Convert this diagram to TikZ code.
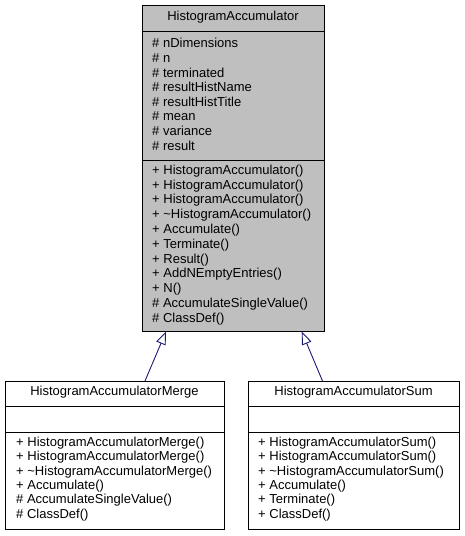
\documentclass[tikz,border=0pt]{standalone}
\usepackage{fontspec}
\setmainfont{Liberation Sans}
\usetikzlibrary{arrows.meta}
\definecolor{boxgray}{HTML}{BFBFBF}
\definecolor{edgeblue}{HTML}{191970}
\begin{document}
\begin{tikzpicture}[x=1pt,y=-1pt,
  txt/.style={anchor=west,inner sep=0pt,font=\fontsize{13}{14.6}\selectfont},
  hdr/.style={anchor=center,inner sep=0pt,font=\fontsize{13}{14.6}\selectfont},
  boxline/.style={draw=black,line width=1pt},
  inherit/.style={draw=edgeblue,line width=0.9pt,-{Triangle[open,length=13pt,width=10pt]}}]
\useasboundingbox (0,0) rectangle (464,536);
% top class
\filldraw[boxline,fill=boxgray] (142,5) rectangle (324,331);
\draw[boxline] (142,31) -- (324,31);
\draw[boxline] (142,160) -- (324,160);
\node[hdr] (th) at (233,17) {HistogramAccumulator};
\node[txt] (a1) at (152,43) {\# nDimensions};
\node[txt] (a2) at (152,57.7) {\# n};
\node[txt] (a3) at (152,72.4) {\# terminated};
\node[txt] (a4) at (152,87.1) {\# resultHistName};
\node[txt] (a5) at (152,101.8) {\# resultHistTitle};
\node[txt] (a6) at (152,116.5) {\# mean};
\node[txt] (a7) at (152,131.2) {\# variance};
\node[txt] (a8) at (152,145.9) {\# result};
\node[txt] (m1) at (152,171) {+ HistogramAccumulator()};
\node[txt] (m2) at (152,185.8) {+ HistogramAccumulator()};
\node[txt] (m3) at (152,200.6) {+ HistogramAccumulator()};
\node[txt] (m4) at (152,215.4) {+ \textasciitilde HistogramAccumulator()};
\node[txt] (m5) at (152,230.2) {+ Accumulate()};
\node[txt] (m6) at (152,245) {+ Terminate()};
\node[txt] (m7) at (152,259.8) {+ Result()};
\node[txt] (m8) at (152,274.6) {+ AddNEmptyEntries()};
\node[txt] (m9) at (152,289.4) {+ N()};
\node[txt] (m10) at (152,304.2) {\# AccumulateSingleValue()};
\node[txt] (m11) at (152,319) {\# ClassDef()};
% left class
\draw[boxline] (5,381) rectangle (224,529);
\draw[boxline] (5,406) -- (224,406);
\draw[boxline] (5,432) -- (224,432);
\node[hdr] (lh) at (114.5,392) {HistogramAccumulatorMerge};
\node[txt] (l1) at (16,443.3) {+ HistogramAccumulatorMerge()};
\node[txt] (l2) at (16,457.6) {+ HistogramAccumulatorMerge()};
\node[txt] (l3) at (16,471.9) {+ \textasciitilde HistogramAccumulatorMerge()};
\node[txt] (l4) at (16,486.2) {+ Accumulate()};
\node[txt] (l5) at (16,500.5) {\# AccumulateSingleValue()};
\node[txt] (l6) at (16,514.8) {\# ClassDef()};
% right class
\draw[boxline] (248,381) rectangle (459,529);
\draw[boxline] (248,406) -- (459,406);
\draw[boxline] (248,432) -- (459,432);
\node[hdr] (rh) at (353.5,392) {HistogramAccumulatorSum};
\node[txt] (r1) at (258,443.3) {+ HistogramAccumulatorSum()};
\node[txt] (r2) at (258,457.6) {+ HistogramAccumulatorSum()};
\node[txt] (r3) at (258,471.9) {+ \textasciitilde HistogramAccumulatorSum()};
\node[txt] (r4) at (258,486.2) {+ Accumulate()};
\node[txt] (r5) at (258,500.5) {+ Terminate()};
\node[txt] (r6) at (258,514.8) {+ ClassDef()};
% connectors
\coordinate (lt) at (145,381);
\coordinate (lb) at (166,331.5);
\coordinate (rt) at (322.5,381);
\coordinate (rb) at (301.7,331.5);
\draw[inherit] (lt) -- (lb);
\draw[inherit] (rt) -- (rb);
\end{tikzpicture}
\end{document}
